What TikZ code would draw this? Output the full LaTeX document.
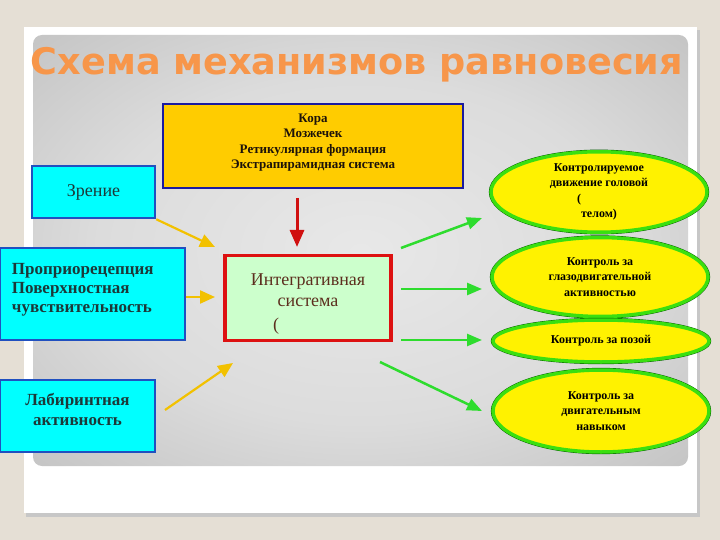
\documentclass[tikz,border=0pt]{standalone}
\usepackage{fontspec}
\setmainfont{Liberation Serif}
\newfontfamily\titlefont{DejaVu Sans}
\usetikzlibrary{arrows.meta,shapes.geometric}
\definecolor{bgbeige}{HTML}{E5DFD5}
\definecolor{pgrayA}{HTML}{E8E8E8}
\definecolor{pgrayB}{HTML}{DCDCDC}
\definecolor{pgrayC}{HTML}{BEBEBE}
\definecolor{pgrayD}{HTML}{A2A2A2}
\definecolor{titleorange}{HTML}{F7964A}
\definecolor{boxgold}{HTML}{FFCC00}
\definecolor{navyline}{HTML}{1A1AA0}
\definecolor{cyanbox}{HTML}{00FFFF}
\definecolor{cyanline}{HTML}{2050C0}
\definecolor{integfill}{HTML}{CCFFCC}
\definecolor{integline}{HTML}{DD1111}
\definecolor{ovalgreen}{HTML}{3ADF10}
\definecolor{arrowgreen}{HTML}{2EDC2E}
\definecolor{arrowyellow}{HTML}{F2C100}
\definecolor{arrowred}{HTML}{D01010}
\definecolor{tealtext}{HTML}{1C3838}
\definecolor{browntext}{HTML}{5C2E1E}
\pgfdeclareradialshading{panelshade}{\pgfpoint{0bp}{0bp}}{color(0bp)=(pgrayA); color(20bp)=(pgrayB); color(40bp)=(pgrayC); color(50bp)=(pgrayD)}
\begin{document}
\begin{tikzpicture}[x=1pt, y=-1pt,
    cortexbox/.style={rectangle, draw=navyline, line width=2.5pt, fill=boxgold, minimum width=300pt, minimum height=84pt, align=center, font=\bfseries\fontsize{13}{15.5}\selectfont, text=black!85!brown},
    sensebox/.style={rectangle, draw=cyanline, line width=2.5pt, fill=cyanbox, inner sep=0pt, text=tealtext},
    controloval/.style={ellipse, draw=ovalgreen, line width=3.5pt, fill=yellow, minimum width=216pt, inner sep=0pt, align=center, font=\bfseries\fontsize{12}{15.5}\selectfont, preaction={draw=green!35!black, line width=4.3pt}},
    yarrow/.style={-{Triangle[length=15pt, width=13pt]}, draw=arrowyellow, fill=arrowyellow, line width=2.2pt},
    garrow/.style={-{Triangle[length=15pt, width=12pt]}, draw=arrowgreen, fill=arrowgreen, line width=2.5pt},
    rarrow/.style={-{Triangle[length=17pt, width=14pt]}, draw=arrowred, fill=arrowred, line width=3pt}]
    \useasboundingbox (0,0) rectangle (720,540);
    % slide
    \fill[bgbeige] (0,0) rectangle (720,540);
    \fill[black!22] (26,30) rectangle (700,517);
    \fill[white] (24,27) rectangle (697,513);
    \shade[shading=panelshade, rounded corners=9pt] (33,35) rectangle (688,466);
    \node[anchor=base, text=titleorange, font=\titlefont\bfseries\fontsize{36.6}{40}\selectfont] (title) at (357,75) {Схема механизмов равновесия};
    % centres
    \node[cortexbox] (cortex) at (313,146) {Кора\\Мозжечек\\Ретикулярная формация\\Экстрапирамидная система\\[-6pt]\mbox{}};
    \node[rectangle, draw=integline, line width=3.5pt, fill=integfill, minimum width=166pt, minimum height=84pt, text=browntext, font=\fontsize{18}{21}\selectfont] (integ) at (308,298) {\begin{tabular}{@{}c@{}}\\[-9pt]Интегративная\\система\\[3pt]\makebox[70pt][l]{(}\end{tabular}};
    % inputs
    \node[sensebox, minimum width=123pt, minimum height=52pt, font=\fontsize{18}{21}\selectfont] (vision) at (93.5,192) {Зрение};
    \node[sensebox, minimum width=185pt, minimum height=92pt, text width=161pt, align=left, font=\bfseries\fontsize{17}{19}\selectfont] (proprio) at (92.5,294) {Проприорецепция\\Поверхностная\\чувствительность\\[-7pt]\mbox{}};
    \node[sensebox, minimum width=155pt, minimum height=72pt, align=center, font=\bfseries\fontsize{17}{20}\selectfont] (labyr) at (77.5,416) {Лабиринтная\\активность\\[-6pt]\mbox{}};
    % outputs
    \node[controloval, minimum height=80pt] (head) at (599,192) {Контролируемое\\движение головой\\\makebox[44pt][l]{(}\\телом)};
    \node[controloval, minimum height=79pt] (eyes) at (600,277) {Контроль за\\глазодвигательной\\активностью};
    \node[controloval, minimum height=42pt] (pose) at (601,341) {Контроль за позой};
    \node[controloval, minimum height=82pt] (skill) at (601,411) {Контроль за\\двигательным\\навыком};
    % arrow ends
    \coordinate (vis-end) at (215,247);
    \coordinate (prop-end) at (215,297);
    \coordinate (lab-start) at (165,410);
    \coordinate (lab-end) at (233,363);
    \coordinate (cortex-start) at (297,198);
    \coordinate (integ-in) at (297,247);
    \coordinate (out1) at (401,248);
    \coordinate (out2) at (401,289);
    \coordinate (out3) at (401,340);
    \coordinate (out4) at (380,362);
    \coordinate (head-in) at (482,218);
    \coordinate (eyes-in) at (482,289);
    \coordinate (pose-in) at (482,340);
    \coordinate (skill-in) at (482,411);
    \draw[yarrow] (vision.south east) -- (vis-end);
    \draw[yarrow] (proprio.east |- prop-end) -- (prop-end);
    \draw[yarrow] (lab-start) -- (lab-end);
    \draw[rarrow] (cortex-start) -- (integ-in);
    \draw[garrow] (out1) -- (head-in);
    \draw[garrow] (out2) -- (eyes-in);
    \draw[garrow] (out3) -- (pose-in);
    \draw[garrow] (out4) -- (skill-in);
\end{tikzpicture}
\end{document}
